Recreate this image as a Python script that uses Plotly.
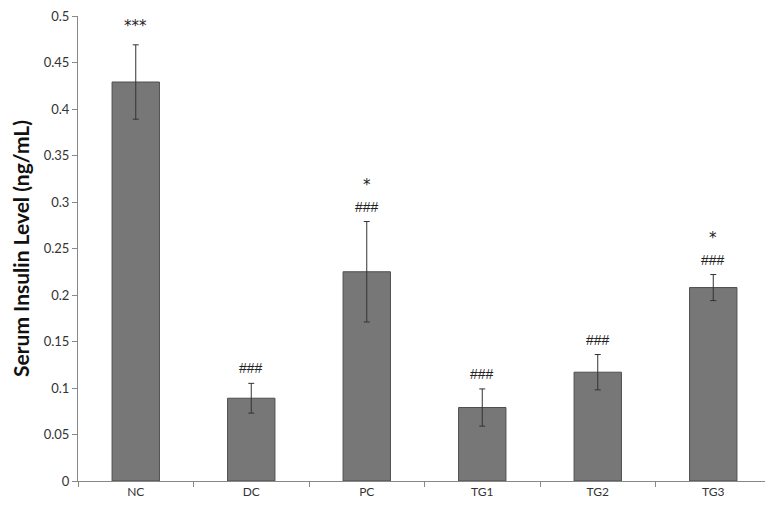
import plotly.graph_objects as go

groups = ["NC", "DC", "PC", "TG1", "TG2", "TG3"]
insulin = [0.429, 0.089, 0.225, 0.079, 0.117, 0.208]
sem = [0.040, 0.016, 0.054, 0.020, 0.019, 0.014]
vs_dc = ["***", "", "*", "", "", "*"]
vs_nc = ["", "###", "###", "###", "###", "###"]

fig = go.Figure()
fig.add_trace(go.Bar(
    x=groups, y=insulin,
    marker=dict(color="#777777", line=dict(color="#4d4d4d", width=1)),
    error_y=dict(type="data", array=sem, color="#333333", thickness=1, width=3),
))

mark_font = dict(family="Liberation Sans", size=14, color="#222")
for g, v, e, s, h in zip(groups, insulin, sem, vs_dc, vs_nc):
    top = v + e
    if h:
        fig.add_annotation(x=g, y=top, text=h, showarrow=False, yanchor="bottom",
                           yshift=5, font=mark_font)
    if s:
        fig.add_annotation(x=g, y=top, text=s, showarrow=False, yanchor="bottom",
                           yshift=26 if h else 8, font=dict(family="DejaVu Sans", size=15, color="#222"))

fig.update_layout(
    width=773, height=508,
    margin=dict(l=70, r=10, t=8, b=35),
    plot_bgcolor="white", paper_bgcolor="white",
    bargap=0.59, showlegend=False,
    font=dict(family="Lato, Open Sans, sans-serif", color="#333"),
)
fig.update_xaxes(showline=True, linecolor="#888", linewidth=1, ticks="outside",
                 tickson="boundaries", ticklen=5, tickcolor="#888", automargin=False,
                 tickfont=dict(size=12, color="#333"))
fig.update_yaxes(range=[0, 0.5], dtick=0.05, showline=True, linecolor="#888", linewidth=1,
                 ticks="outside", ticklen=5, tickcolor="#888", showgrid=False, zeroline=False,
                 tickformat="~g", tickfont=dict(size=13, color="#333"), ticklabeloverflow="allow",
                 automargin=False,
                 title=dict(text="<b>Serum Insulin Level (ng/mL)</b>", font=dict(size=21, color="#111"), standoff=10))

fig.write_html("out.html")
